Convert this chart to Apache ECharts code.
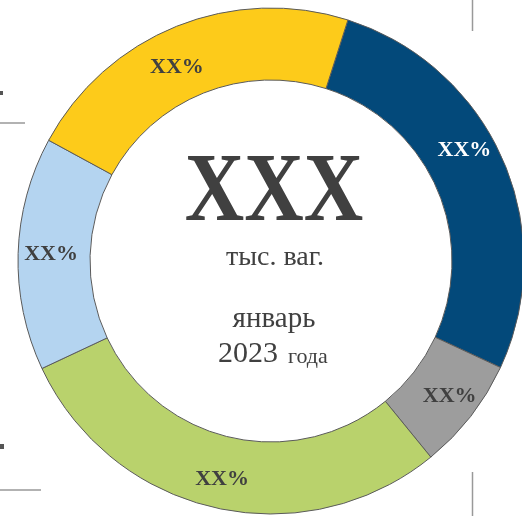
<!DOCTYPE html>
<html>
<head>
<meta charset="utf-8">
<script src="https://cdn.jsdelivr.net/npm/echarts@6/dist/echarts.min.js"></script>
<style>
html, body { margin: 0; padding: 0; background: #fff; }
#main { width: 522px; height: 516px; }
</style>
</head>
<body>
<div id="main"></div>
<script>
var chart = echarts.init(document.getElementById('main'));

// доли сегментов (по часовой стрелке, начиная с тёмно-синего)
var categories = ['Сегмент 1', 'Сегмент 2', 'Сегмент 3', 'Сегмент 4', 'Сегмент 5'];
var values = [27.0, 7.2, 28.9, 14.9, 22.0];
var labels = ['XX%', 'XX%', 'XX%', 'XX%', 'XX%'];
var colors = ['#03497a', '#9d9d9d', '#b9d26c', '#b4d4f0', '#fdcb1a'];
var labelColors = ['#ffffff', '#404040', '#404040', '#404040', '#404040'];

var serif = '"Liberation Serif", "DejaVu Serif", serif';

var option = {
	animation: false,
	series: [{
		type: 'pie',
		center: [271, 261],
		radius: [181, 253],
		startAngle: 72.3,
		clockwise: true,
		avoidLabelOverlap: false,
		itemStyle: {
			borderColor: '#5a5a5a',
			borderWidth: 1
		},
		label: {
			show: true,
			position: 'inside',
			fontFamily: serif,
			fontWeight: 'bold',
			fontSize: 22
		},
		labelLine: { show: false },
		emphasis: { disabled: true },
		labelLayout: function (p) {
			// небольшие сдвиги подписей, как в исходнике
			if (p.dataIndex === 0) return { dx: -8, dy: -22 };
			if (p.dataIndex === 4) return { dx: -12, dy: 10 };
			if (p.dataIndex === 2) return { dy: 4 };
			if (p.dataIndex === 1) return { dx: 5 };
			return {};
		},
		data: categories.map(function (name, i) {
			return {
				name: name,
				value: values[i],
				itemStyle: { color: colors[i] },
				label: { formatter: labels[i], color: labelColors[i] }
			};
		})
	}],
	graphic: [
		{ type: 'text', x: 274, y: 195, scaleX: 0.85, style: { text: 'XXX', fill: '#404040', font: 'bold 97px ' + serif, textAlign: 'center', textVerticalAlign: 'middle' } },
		{ type: 'text', x: 275, y: 258, style: { text: 'тыс. ваг.', fill: '#404040', font: '28px ' + serif, textAlign: 'center', textVerticalAlign: 'middle' } },
		{ type: 'text', x: 274, y: 319, style: { text: 'январь', fill: '#404040', font: '29px ' + serif, textAlign: 'center', textVerticalAlign: 'middle' } },
		{ type: 'text', x: 278, y: 354, style: { text: '2023', fill: '#404040', font: '30px ' + serif, textAlign: 'right', textVerticalAlign: 'middle' } },
		{ type: 'text', x: 288, y: 357, style: { text: 'года', fill: '#404040', font: '22px ' + serif, textAlign: 'left', textVerticalAlign: 'middle' } },
		// обрывки соседних элементов инфографики
		{ type: 'rect', shape: { x: 0, y: 91, width: 3, height: 4 }, style: { fill: '#555' } },
		{ type: 'line', shape: { x1: 0, y1: 123, x2: 25, y2: 123 }, style: { stroke: '#999', lineWidth: 1.5 } },
		{ type: 'rect', shape: { x: 0, y: 444, width: 4, height: 5 }, style: { fill: '#555' } },
		{ type: 'line', shape: { x1: 0, y1: 490, x2: 41, y2: 490 }, style: { stroke: '#999', lineWidth: 1.5 } },
		{ type: 'line', shape: { x1: 472.5, y1: 0, x2: 472.5, y2: 31 }, style: { stroke: '#999', lineWidth: 1.5 } },
		{ type: 'line', shape: { x1: 472.5, y1: 472, x2: 472.5, y2: 516 }, style: { stroke: '#999', lineWidth: 1.5 } }
	]
};

chart.setOption(option);
</script>
</body>
</html>
